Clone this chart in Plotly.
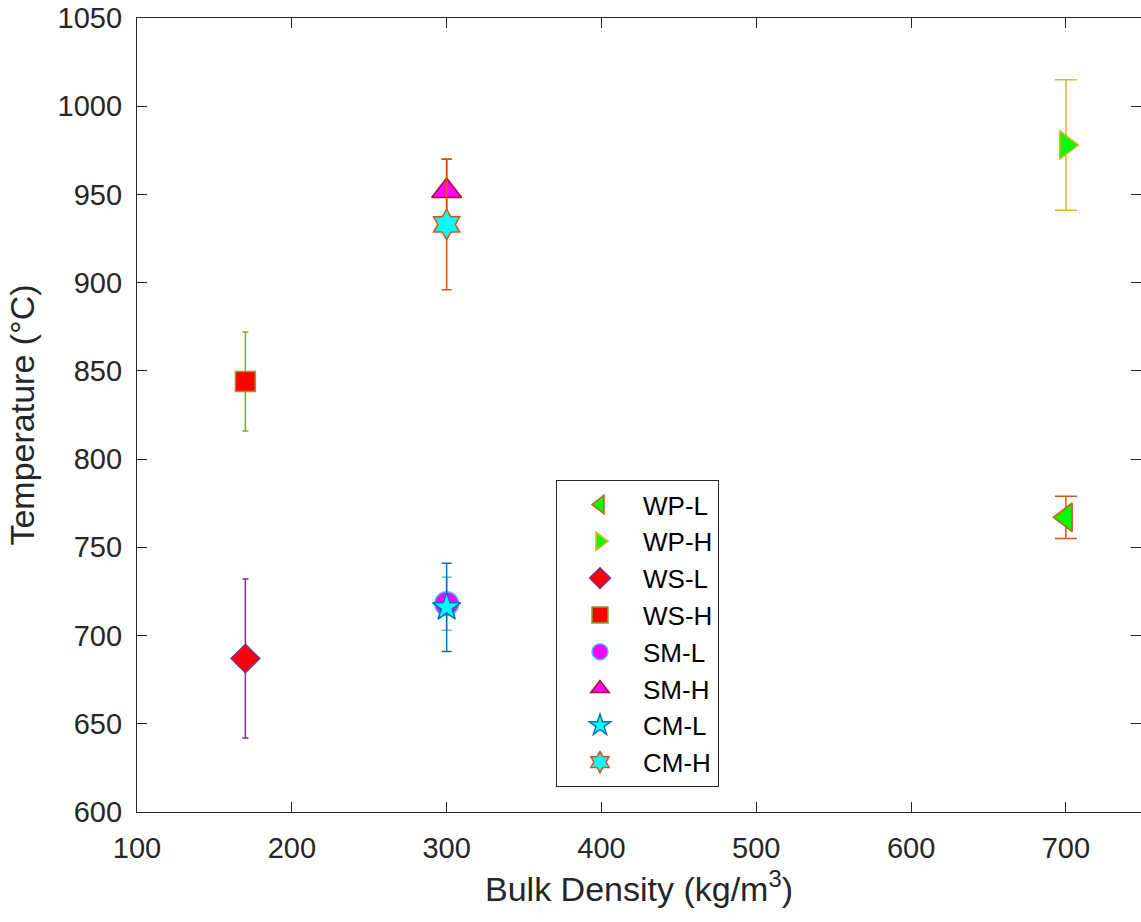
import plotly.graph_objects as go

# Data
names = ["WP-L", "WP-H", "WS-L", "WS-H", "SM-L", "SM-H", "CM-L", "CM-H"]
density = [700, 700, 170, 170, 300, 300, 300, 300]
temperature = [767, 978, 687, 844, 718, 952, 716, 933]
temp_error = [12, 37, 45, 28, 15, 18, 25, 37]
x_ticks = [100, 200, 300, 400, 500, 600, 700]
y_ticks = [600, 650, 700, 750, 800, 850, 900, 950, 1000, 1050]

# Styles
symbols = ["triangle-left", "triangle-right", "diamond", "square", "circle", "triangle-up", "star", "hexagram"]
fills = ["#00FF00", "#00FF00", "#FF0000", "#FF0000", "#FF00FF", "#FF00FF", "#00FFFF", "#00FFFF"]
edges = ["#D95319", "#EDB120", "#7E2F8E", "#77AC30", "#4DBEEE", "#A2142F", "#0072BD", "#D95319"]
sizes = [25, 25, 22, 20, 24, 26, 21, 23]
capw = [11, 11, 3, 3, 5, 5, 5, 5]

fig = go.Figure()
for i, n in enumerate(names):
    fig.add_trace(go.Scatter(
        x=[density[i]], y=[temperature[i]], name=n, mode="markers",
        marker=dict(symbol=symbols[i], color=fills[i], size=sizes[i],
                    line=dict(color=edges[i], width=1.5)),
        error_y=dict(type="data", array=[temp_error[i]], visible=True,
                     color=edges[i], thickness=1.5, width=capw[i]),
    ))

font = "Liberation Sans, Arial, Helvetica, sans-serif"
axis_common = dict(
    showgrid=False, zeroline=False, showline=True, linecolor="#262626", linewidth=1.2,
    mirror="ticks", ticks="inside", ticklen=10, tickcolor="#262626", tickwidth=1.2,
    tickfont=dict(family=font, size=29, color="#262626"),
)
fig.update_layout(
    width=1141, height=922,
    margin=dict(l=137, r=0, t=18, b=110),
    plot_bgcolor="white", paper_bgcolor="white",
    xaxis=dict(range=[100, 748.5], tickmode="array", tickvals=x_ticks, ticklabelstandoff=10,
               title=dict(text="Bulk Density (kg/m<sup>3</sup>)", font=dict(family=font, size=34, color="#262626"), standoff=14),
               **axis_common),
    yaxis=dict(range=[600, 1050], tickmode="array", tickvals=y_ticks, ticklabelstandoff=8,
               title=dict(text="Temperature (°C)", font=dict(family=font, size=34, color="#262626"), standoff=12),
               **axis_common),
    legend=dict(x=0.4985, y=0.418, xanchor="center", yanchor="top",
                bgcolor="white", bordercolor="#262626", borderwidth=1,
                font=dict(family=font, size=26, color="black"),
                itemwidth=76),
    showlegend=True,
)

fig.write_html("out.html", config={"displayModeBar": False},
               post_script="document.body.style.margin='0';document.body.style.overflow='hidden';")
